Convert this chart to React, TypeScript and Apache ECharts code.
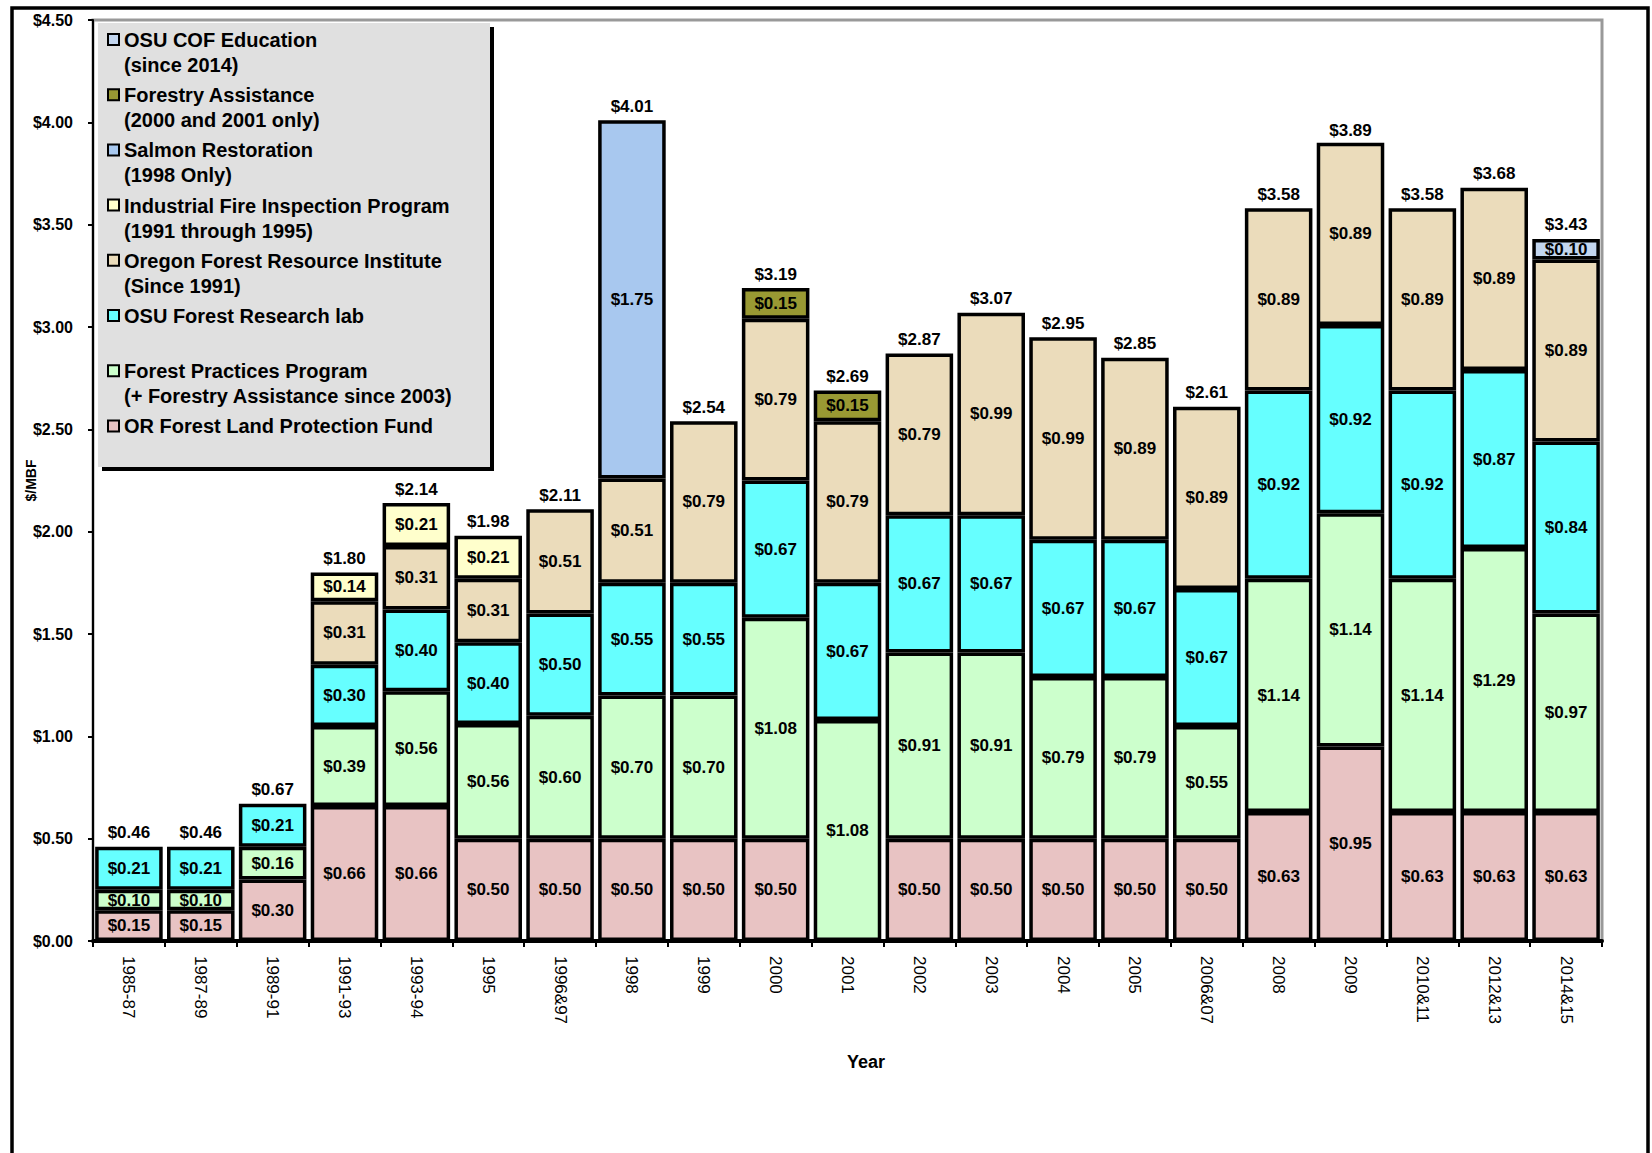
import React, { useEffect, useRef } from "react";
import * as echarts from "echarts";

const categories = ["1985-87", "1987-89", "1989-91", "1991-93", "1993-94", "1995", "1996&97", "1998", "1999", "2000", "2001", "2002", "2003", "2004", "2005", "2006&07", "2008", "2009", "2010&11", "2012&13", "2014&15"];

const landProtection = [0.15, 0.15, 0.30, 0.66, 0.66, 0.50, 0.50, 0.50, 0.50, 0.50, null, 0.50, 0.50, 0.50, 0.50, 0.50, 0.63, 0.95, 0.63, 0.63, 0.63];
const forestPractices = [0.10, 0.10, 0.16, 0.39, 0.56, 0.56, 0.60, 0.70, 0.70, 1.08, 1.08, 0.91, 0.91, 0.79, 0.79, 0.55, 1.14, 1.14, 1.14, 1.29, 0.97];
const researchLab = [0.21, 0.21, 0.21, 0.30, 0.40, 0.40, 0.50, 0.55, 0.55, 0.67, 0.67, 0.67, 0.67, 0.67, 0.67, 0.67, 0.92, 0.92, 0.92, 0.87, 0.84];
const ofri = [null, null, null, 0.31, 0.31, 0.31, 0.51, 0.51, 0.79, 0.79, 0.79, 0.79, 0.99, 0.99, 0.89, 0.89, 0.89, 0.89, 0.89, 0.89, 0.89];
const fireInspection = [null, null, null, 0.14, 0.21, 0.21, null, null, null, null, null, null, null, null, null, null, null, null, null, null, null];
const salmon = [null, null, null, null, null, null, null, 1.75, null, null, null, null, null, null, null, null, null, null, null, null, null];
const forestryAssistance = [null, null, null, null, null, null, null, null, null, 0.15, 0.15, null, null, null, null, null, null, null, null, null, null];
const cofEducation = [null, null, null, null, null, null, null, null, null, null, null, null, null, null, null, null, null, null, null, null, 0.10];
const totals = [0.46, 0.46, 0.67, 1.80, 2.14, 1.98, 2.11, 4.01, 2.54, 3.19, 2.69, 2.87, 3.07, 2.95, 2.85, 2.61, 3.58, 3.89, 3.58, 3.68, 3.43];

const yTicks = { min: 0, max: 4.5, interval: 0.5 };

// bottom-to-top stacking order
const seriesNames = [
  "OR Forest Land Protection Fund",
  "Forest Practices Program\n(+ Forestry Assistance since 2003)",
  "OSU Forest Research lab",
  "Oregon Forest Resource Institute\n(Since 1991)",
  "Industrial Fire Inspection Program\n(1991 through 1995)",
  "Salmon Restoration\n(1998 Only)",
  "Forestry Assistance\n(2000 and 2001 only)",
  "OSU COF Education\n(since 2014)",
];
const seriesData = [landProtection, forestPractices, researchLab, ofri, fireInspection, salmon, forestryAssistance, cofEducation];
const seriesColors = ["#E8C3C3", "#CCFFCC", "#66FFFF", "#EBDCBB", "#FFFFCC", "#A8C8EF", "#999933", "#C3D6EF"];

const FONT = "'Liberation Sans', Arial, sans-serif";

export default function App() {
  const ref = useRef<HTMLDivElement>(null);
  useEffect(() => {
    if (!ref.current) return;
    const chart = echarts.init(ref.current, null, { renderer: "svg" });

    const barSeries = seriesNames.map((name, i) => ({
      name,
      type: "bar",
      stack: "total",
      barCategoryGap: "6%",
      data: seriesData[i],
      itemStyle: { color: seriesColors[i], borderColor: "#000", borderWidth: 3.5 },
      label: {
        show: true,
        position: "inside",
        color: "#000",
        fontFamily: FONT,
        fontWeight: "bold",
        fontSize: 17,
        formatter: (p: any) => (p.value == null ? "" : "$" + Number(p.value).toFixed(2)),
      },
      z: 2,
    }));

    const totalSeries = {
      name: "Total",
      type: "scatter",
      data: totals,
      symbol: "rect",
      symbolSize: 1,
      itemStyle: { color: "#000", opacity: 0 },
      label: {
        show: true,
        position: "top",
        distance: 5,
        opacity: 1,
        color: "#000",
        fontFamily: FONT,
        fontWeight: "bold",
        fontSize: 17,
        formatter: (p: any) => "$" + Number(p.value).toFixed(2),
      },
      z: 5,
    };

    // legend drawn as graphic, top-to-bottom order is reverse of stacking
    const legendOrder = seriesNames.map((_, i) => seriesNames.length - 1 - i);
    const legendChildren: any[] = [
      { type: "rect", shape: { x: 102, y: 27, width: 392, height: 444 }, style: { fill: "#000" } },
      { type: "rect", shape: { x: 98, y: 23, width: 392, height: 444 }, style: { fill: "#E0E0E0" } },
    ];
    legendOrder.forEach((si, k) => {
      const cy = 40 + k * 55.2;
      legendChildren.push({
        type: "rect",
        shape: { x: 108, y: cy - 6, width: 11, height: 11 },
        style: { fill: seriesColors[si], stroke: "#000", lineWidth: 2 },
      });
      legendChildren.push({
        type: "text",
        x: 124,
        y: cy - 12.5,
        style: {
          text: seriesNames[si],
          fill: "#000",
          font: `bold 20px ${FONT}`,
          lineHeight: 25,
          verticalAlign: "top",
          align: "left",
        },
      });
    });

    chart.setOption({
      animation: false,
      backgroundColor: "#fff",
      grid: { left: 93, right: 50, top: 20, bottom: 212, show: true, borderColor: "#999", borderWidth: 3, backgroundColor: "transparent" },
      xAxis: {
        type: "category",
        data: categories,
        axisLine: { lineStyle: { color: "#000", width: 4 } },
        axisTick: { show: true, length: 6, lineStyle: { color: "#000", width: 2 } },
        axisLabel: { interval: 0, rotate: -90, margin: 15, color: "#000", fontFamily: FONT, fontSize: 17 },
      },
      yAxis: {
        type: "value",
        min: yTicks.min,
        max: yTicks.max,
        interval: yTicks.interval,
        name: "$/MBF",
        nameLocation: "middle",
        nameGap: 55,
        nameMoveOverlap: false,
        nameTextStyle: { color: "#000", fontFamily: FONT, fontWeight: "bold", fontSize: 14 },
        splitLine: { show: false },
        axisLine: { show: true, lineStyle: { color: "#000", width: 2 } },
        axisTick: { show: true, length: 5, lineStyle: { color: "#000", width: 2 } },
        axisLabel: {
          margin: 20,
          color: "#000",
          fontFamily: FONT,
          fontWeight: "bold",
          fontSize: 16,
          formatter: (v: number) => "$" + v.toFixed(2),
        },
      },
      graphic: [
        { type: "rect", z: -1, shape: { x: 12, y: 8, width: 1636, height: 1200 }, style: { fill: "none", stroke: "#000", lineWidth: 3.5 } },
        { type: "group", z: 10, children: legendChildren },
        { type: "text", x: 866, y: 1062, style: { text: "Year", fill: "#000", font: `bold 18px ${FONT}`, align: "center", verticalAlign: "middle" } },
      ],
      series: [...barSeries, totalSeries],
    });

    return () => chart.dispose();
  }, []);

  return <div ref={ref} style={{ position: "absolute", left: 0, top: 0, width: 1652, height: 1153 }} />;
}
